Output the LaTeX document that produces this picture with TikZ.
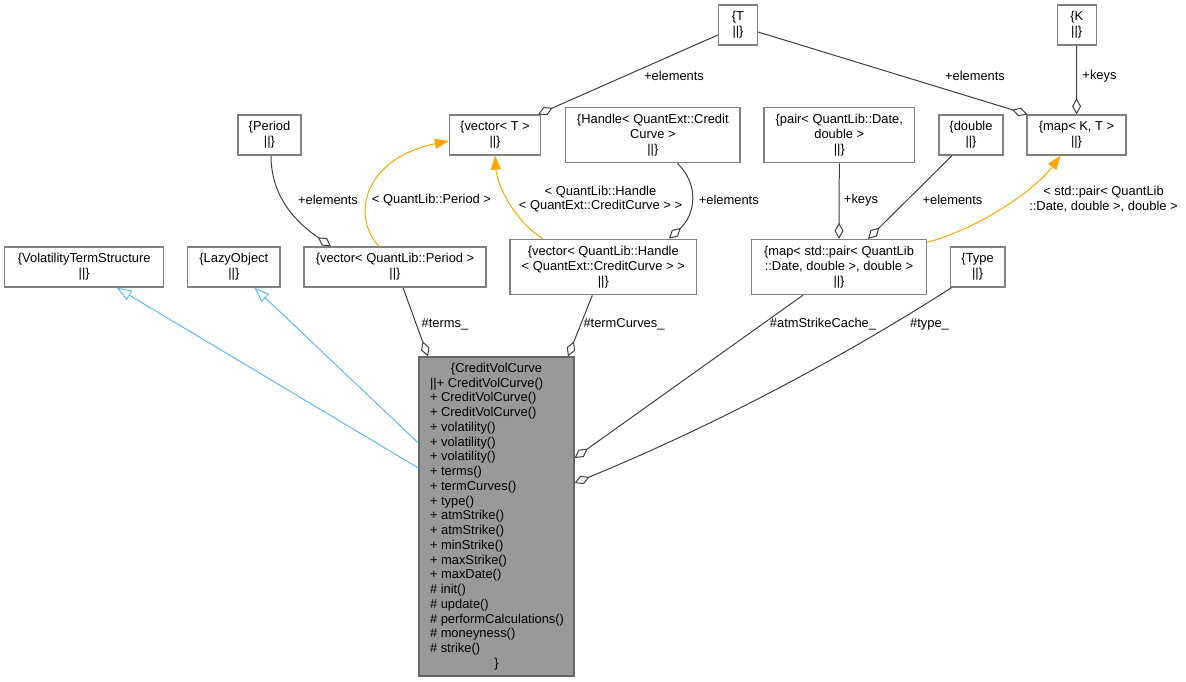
\documentclass[tikz,border=0pt]{standalone}
\usepackage{fontspec}
\setmainfont{Liberation Sans}
\usetikzlibrary{calc,arrows.meta}
\definecolor{boxgray}{RGB}{128,128,128}
\definecolor{maingray}{RGB}{153,153,153}
\definecolor{mainborder}{RGB}{102,102,102}
\definecolor{linegray}{RGB}{64,64,64}
\definecolor{inhblue}{RGB}{99,184,255}
\definecolor{tmplorange}{RGB}{255,165,0}
\newcommand{\labfont}{\fontsize{12.9}{14.75}\selectfont}
\begin{document}
\begin{tikzpicture}[x=1pt,y=-1pt,
  box/.style={draw=boxgray, line width=1.3pt, fill=white, inner sep=0pt, align=center, font=\labfont},
  mainbox/.style={draw=mainborder, line width=1.3pt, fill=maingray, inner sep=0pt, font=\labfont},
  lbl/.style={inner sep=0pt, align=center, font=\labfont},
  agg/.style={draw=linegray, line width=1pt, -{Diamond[open, length=16pt, width=9pt, line width=1pt]}},
  tmpl/.style={draw=tmplorange, line width=1pt, -{Triangle[length=14pt, width=10pt]}},
  inh/.style={draw=inhblue, line width=1pt, -{Triangle[open, length=15pt, width=11pt, line width=1pt]}}
]
\useasboundingbox (0,0) rectangle (1186,681);
\fill[white] (0,0) rectangle (1186,681);

% nodes
\node[box, minimum width=39pt, minimum height=40pt] (T) at (738,25) {\{T\\||\}};
\node[box, minimum width=39pt, minimum height=40pt] (K) at (1076.7,25) {\{K\\||\}};
\node[box, minimum width=63pt, minimum height=40pt] (per) at (269.5,135) {\{Period\\||\}};
\node[box, minimum width=91pt, minimum height=40pt] (vT) at (495,135) {\{vector< T >\\||\}};
\node[box, minimum width=174.4pt, minimum height=55pt] (hdl) at (652.8,135.2) {\{Handle< QuantExt::Credit\\Curve >\\||\}};
\node[box, minimum width=150.7pt, minimum height=55pt] (pair) at (839.3,135.2) {\{pair< QuantLib::Date,\\double >\\||\}};
\node[box, minimum width=64pt, minimum height=40pt] (dbl) at (971,135) {\{double\\||\}};
\node[box, minimum width=99pt, minimum height=40pt] (mKT) at (1076.5,135) {\{map< K, T >\\||\}};
\node[box, minimum width=159pt, minimum height=40pt] (vts) at (84.2,267) {\{VolatilityTermStructure\\||\}};
\node[box, minimum width=92.5pt, minimum height=40pt] (lazy) at (233.8,267) {\{LazyObject\\||\}};
\node[box, minimum width=182pt, minimum height=40pt] (vP) at (395,267) {\{vector< QuantLib::Period >\\||\}};
\node[box, minimum width=186.7pt, minimum height=55.5pt] (vH) at (603.3,267) {\{vector< QuantLib::Handle\\< QuantExt::CreditCurve > >\\||\}};
\node[box, minimum width=175pt, minimum height=55pt] (mP) at (839,267) {\{map< std::pair< QuantLib\\::Date, double >, double >\\||\}};
\node[box, minimum width=54.7pt, minimum height=40pt] (typ) at (977.6,267) {\{Type\\||\}};

\node[mainbox, minimum width=155pt, minimum height=319pt] (cvc) at (496.5,516.5) {\parbox{133pt}{\raggedright
\makebox[133pt][c]{\{CreditVolCurve}\\
\mbox{||+ CreditVolCurve()}\\
\mbox{+ CreditVolCurve()}\\
\mbox{+ CreditVolCurve()}\\
\mbox{+ volatility()}\\
\mbox{+ volatility()}\\
\mbox{+ volatility()}\\
\mbox{+ terms()}\\
\mbox{+ termCurves()}\\
\mbox{+ type()}\\
\mbox{+ atmStrike()}\\
\mbox{+ atmStrike()}\\
\mbox{+ minStrike()}\\
\mbox{+ maxStrike()}\\
\mbox{+ maxDate()}\\
\mbox{\# init()}\\
\mbox{\# update()}\\
\mbox{\# performCalculations()}\\
\mbox{\# moneyness()}\\
\mbox{\# strike()}\\
\makebox[133pt][c]{\}}}};

% inheritance
\draw[inh] ($(cvc.west)+(0,-48.5)$) -- ($(vts.south)+(32.5,0)$);
\draw[inh] ($(cvc.west)+(0,-73.5)$) -- ($(lazy.south)+(20.7,0)$);

% aggregation into main class
\draw[agg] ($(vP.south)+(8,0)$) -- ($(cvc.north)+(-68.5,0)$);
\node[lbl] (lterms) at (445,324) {\#terms\_};
\draw[agg] ($(vH.south)+(-11,0)$) -- ($(cvc.north)+(71.5,0)$);
\node[lbl] (ltc) at (624,324) {\#termCurves\_};
\draw[agg] ($(mP.south)+(-36,0)$) -- ($(cvc.east)+(0,-58.5)$);
\node[lbl] (latm) at (823,324) {\#atmStrikeCache\_};
\draw[agg] ($(typ.south west)+(2,0)$) .. controls (832,364) and (706,429) .. ($(cvc.east)+(0,-33.5)$);
\node[lbl] (ltype) at (929.5,324) {\#type\_};

% upper aggregation
\draw[agg] ($(per.south)+(1.5,0)$) .. controls (271,200) and (300,225) .. ($(vP.north)+(-64,0)$);
\node[lbl] (lpe) at (328,200) {+elements};
\draw[agg] ($(T.west)+(0,10)$) -- ($(vT.north)+(43,0)$);
\node[lbl] (lte1) at (674,75.7) {+elements};
\draw[agg] ($(T.east)+(0,7)$) -- ($(mKT.north west)+(1,0)$);
\node[lbl] (lte2) at (975,75.7) {+elements};
\draw[agg] (K.south) -- (mKT.north);
\node[lbl] (lkk) at (1099.5,75.7) {+keys};
\draw[agg] ($(hdl.south)+(24.6,0)$) .. controls (700,185) and (695,215) .. ($(vH.north)+(65.7,0)$);
\node[lbl] (lhe) at (728.8,200) {+elements};
\draw[agg] (pair.south) -- (mP.north);
\node[lbl] (lpk) at (861,200) {+keys};
\draw[agg] ($(dbl.south)+(-19,0)$) -- ($(mP.north)+(29,0)$);
\node[lbl] (lde) at (952.5,200) {+elements};

% template instantiation
\draw[tmpl] ($(vP.north)+(-16,0)$) .. controls (350,215) and (365,158) .. ($(vT.west)+(0,6)$);
\node[lbl] (ltp) at (431.5,200) {< QuantLib::Period >};
\draw[tmpl] ($(vH.north)+(-60.3,0)$) .. controls (515,222) and (497,185) .. (vT.south);
\node[lbl] (lth) at (600.5,199) {< QuantLib::Handle\\< QuantExt::CreditCurve > >};
\draw[tmpl] ($(mP.north east)+(0,3.5)$) .. controls (980,228) and (1035,190) .. ($(mKT.south)+(-16,0)$);
\node[lbl] (ltm) at (1103.5,199.5) {< std::pair< QuantLib\\::Date, double >, double >};
\end{tikzpicture}
\end{document}
